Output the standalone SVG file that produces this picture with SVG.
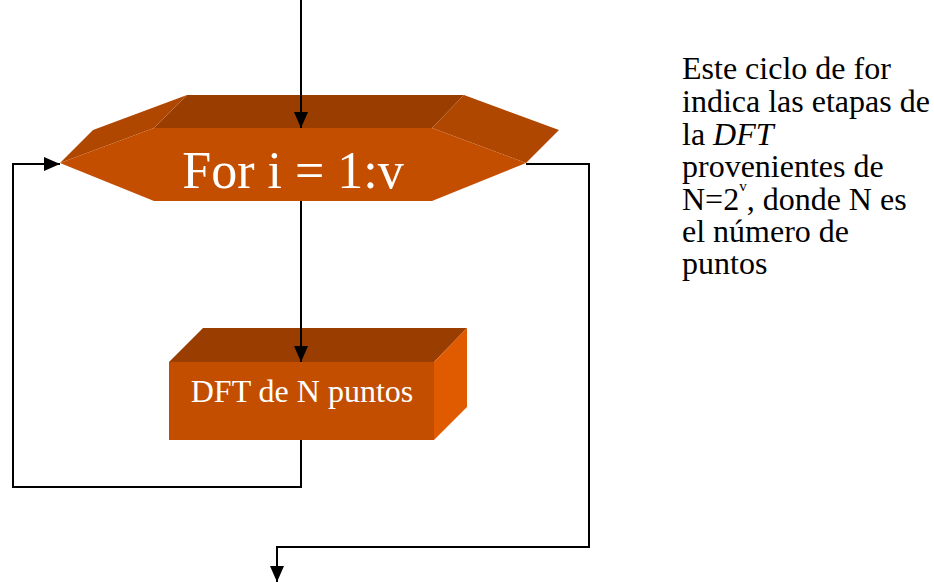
<svg xmlns="http://www.w3.org/2000/svg" width="934" height="582" viewBox="0 0 934 582">
<defs>
<style>
.top{fill:#993D00}
.side{fill:#B04700}
.front{fill:#C34E00}
.right{fill:#E05A00}
.lbl{font-family:"Liberation Serif","Times New Roman",serif;fill:#FFFFFF}
.note{font-family:"Liberation Serif","Times New Roman",serif;font-size:32px;fill:#000000}
.conn{fill:none;stroke:#000000;stroke-width:2}
</style>
<marker id="arr" markerUnits="userSpaceOnUse" markerWidth="16" markerHeight="14" refX="16" refY="7" orient="auto">
<path d="M0,0 L16,7 L0,14 Z" fill="#000000"/>
</marker>
</defs>
<rect width="934" height="582" fill="#FFFFFF"/>
<g id="for-loop">
<polygon class="top" points="154,128 187,95 464,95 432,128"/>
<polygon class="side" points="60,163 93,130 187,95 154,128"/>
<polygon class="side" points="432,128 464,95 559,130 526,163"/>
<polygon class="front" points="60,163 154,128 432,128 526,163 432,201 154,201"/>
<text class="lbl" x="293" y="188" font-size="52" text-anchor="middle">For i = 1:v</text>
</g>
<g id="dft">
<polygon class="top" points="169,362 203,328 467,328 434,362"/>
<polygon class="right" points="434,362 467,328 467,407 434,440"/>
<rect class="front" x="169" y="362" width="265" height="78"/>
<text class="lbl" x="302" y="402" font-size="32" text-anchor="middle">DFT de N puntos</text>
</g>
<g id="connectors">
<path class="conn" d="M301,0 L301,128" marker-end="url(#arr)"/>
<path class="conn" d="M301,201 L301,362" marker-end="url(#arr)"/>
<path class="conn" d="M301,440 L301,487 L13,487 L13,164 L60,164" marker-end="url(#arr)"/>
<path class="conn" d="M526,164 L589,164 L589,547 L277,547 L277,582" marker-end="url(#arr)"/>
</g>
<g id="note">
<text class="note" x="682" y="79">Este ciclo de for</text>
<text class="note" x="682" y="112">indica las etapas de</text>
<text class="note" x="682" y="145">la <tspan font-style="italic">DFT</tspan></text>
<text class="note" x="682" y="177">provenientes de</text>
<text class="note" x="682" y="210">N=2<tspan font-size="15" dy="-19">v</tspan><tspan dy="19">, donde N es</tspan></text>
<text class="note" x="682" y="242">el número de</text>
<text class="note" x="682" y="274">puntos</text>
</g>
</svg>
